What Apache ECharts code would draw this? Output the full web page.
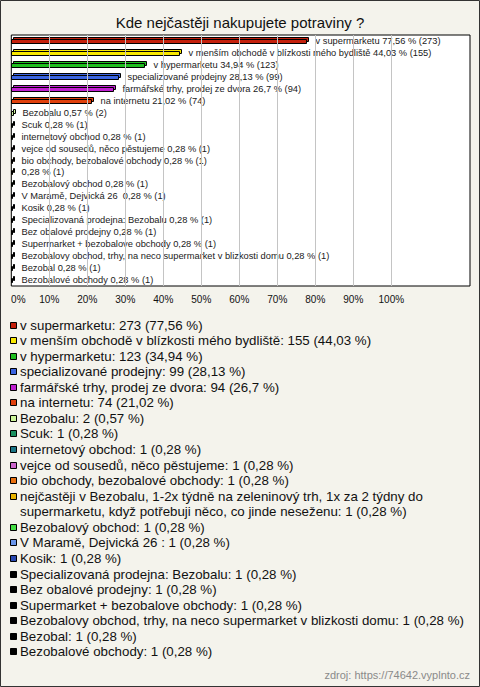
<!DOCTYPE html>
<html><head><meta charset="utf-8">
<script src="https://cdn.jsdelivr.net/npm/echarts@6/dist/echarts.min.js"></script>
<style>html,body{margin:0;padding:0;background:#f4f3ec}#c{width:480px;height:687px}</style>
</head><body><div id="c"></div>
<script>
const chartTitle = 'Kde nejčastěji nakupujete potraviny ?';
const sourceNote = 'zdroj: https://74642.vyplnto.cz';
const categories = [
  'v supermarketu',
  'v menším obchodě v blízkosti mého bydliště',
  'v hypermarketu',
  'specializované prodejny',
  'farmářské trhy, prodej ze dvora',
  'na internetu',
  'Bezobalu',
  'Scuk',
  'internetový obchod',
  'vejce od sousedů, něco pěstujeme',
  'bio obchody, bezobalové obchody',
  'nejčastěji v Bezobalu, 1-2x týdně na zeleninový trh, 1x za 2 týdny do supermarketu, když potřebuji něco, co jinde neseženu',
  'Bezobalový obchod',
  'V Maramě, Dejvická 26 ',
  'Kosik',
  'Specializovaná prodejna: Bezobalu',
  'Bez obalové prodejny',
  'Supermarket + bezobalove obchody',
  'Bezobalovy obchod, trhy, na neco supermarket v blizkosti domu',
  'Bezobal',
  'Bezobalové obchody'
];
// names as printed next to the bars (the long answer is printed without its name)
const barLabelNames = categories.map((c, i) => i === 11 ? '' : c);
const counts = [273, 155, 123, 99, 94, 74, 2, 1, 1, 1, 1, 1, 1, 1, 1, 1, 1, 1, 1, 1, 1];
const percents = [77.56, 44.03, 34.94, 28.13, 26.7, 21.02, 0.57, 0.28, 0.28, 0.28, 0.28, 0.28, 0.28, 0.28, 0.28, 0.28, 0.28, 0.28, 0.28, 0.28, 0.28];
const colors = ['#c4200c', '#f8e800', '#1fbf1f', '#3a64e0', '#c020d0', '#e0400c', '#ccf59a', '#1a9060',
  '#1a7585', '#cc66cc', '#e87010', '#e8b400', '#44dd44', '#6a96ea', '#2848b0',
  '#000000', '#000000', '#000000', '#000000', '#000000', '#000000'];
const tickStep = 10;
const tickLabelMax = 100;
const gridLineValues = [10, 20, 30, 40, 50, 60, 70, 80, 90, 100];

const FONT = '"Liberation Sans", Arial, sans-serif';
const fmt = v => String(v).replace('.', ',');

// plot frame: 0% at x=11.3, 100% at x=391.3, frame right edge at x=470
const gridLeft = 11.3, gridRight = 470, pxPer100 = 380;
const axisMax = (gridRight - gridLeft) / pxPer100 * 100;

// legend built from the arrays
const legendTop = 325, legendStep = 15.57, legendTextWidth = 448, legendFont = '13.3px ' + FONT;
const mc = document.createElement('canvas').getContext('2d');
mc.font = legendFont;
const legendElems = [];
let line = 0;
categories.forEach((c, i) => {
  const txt = c + ': ' + counts[i] + ' (' + fmt(percents[i]) + ' %)';
  const yc = legendTop + line * legendStep;
  legendElems.push({
    type: 'rect', silent: true,
    shape: { x: 10.5, y: Math.round(yc - 3.5) + 0.5, width: 6, height: 6 },
    style: { fill: colors[i], stroke: '#000', lineWidth: 1 }
  });
  legendElems.push({
    type: 'text', silent: true,
    style: { x: 20, y: yc - legendStep / 2, text: txt, width: legendTextWidth, overflow: 'break',
      font: legendFont, lineHeight: legendStep, fill: '#111', verticalAlign: 'top', align: 'left' }
  });
  const w = mc.measureText(txt).width;
  line += Math.max(1, Math.ceil(w / legendTextWidth));
});

const chart = echarts.init(document.getElementById('c'), null, { renderer: 'svg' });
chart.setOption({
  backgroundColor: '#f4f3ec',
  animation: false,
  title: {
    text: chartTitle, left: 'center', top: 10,
    textStyle: { fontFamily: FONT, fontSize: 15, fontWeight: 'normal', color: '#111' }
  },
  grid: {
    left: gridLeft, top: 35, width: gridRight - gridLeft, height: 251,
    show: true, backgroundColor: '#ffffff', borderColor: '#000', borderWidth: 1,
    containLabel: false
  },
  xAxis: {
    type: 'value', min: 0, max: axisMax, interval: tickStep,
    axisLine: { show: false }, axisTick: { show: false }, splitLine: { show: false },
    axisLabel: {
      margin: 8, fontFamily: FONT, fontSize: 10, color: '#111', showMaxLabel: false,
      formatter: v => v > tickLabelMax + 0.01 ? '' : (v === 0 ? '{z|0%}' : v + '%'),
      rich: { z: { fontFamily: FONT, fontSize: 10, color: '#111', padding: [0, 0, 0, 14] } }
    }
  },
  yAxis: {
    type: 'category', inverse: true, data: categories,
    axisLine: { show: false }, axisTick: { show: false }, axisLabel: { show: false }, splitLine: { show: false }
  },
  series: [
    {
      type: 'line', data: [], silent: true, z: 1,
      markLine: {
        silent: true, symbol: ['none', 'none'], label: { show: false },
        lineStyle: { color: '#c4c4c4', width: 1, type: 'solid' },
        emphasis: { disabled: true },
        data: gridLineValues.map(v => ({ xAxis: v }))
      }
    },
    {
      type: 'custom', z: 3, silent: true,
      data: percents.map((p, i) => [p, i]),
      renderItem(params, api) {
        const i = params.dataIndex;
        const p0 = api.coord([0, api.value(1)]);
        const p1 = api.coord([api.value(0), api.value(1)]);
        const yc = Math.round(p0[1]);
        const x0 = Math.round(p0[0]) + 0.5;
        const x1 = Math.max(Math.round(p1[0]) + 0.5, x0 + 1);
        const h = 4, d = 2;
        const col = colors[i];
        const label = (barLabelNames[i] ? barLabelNames[i] + ' ' : '') + fmt(percents[i]) + ' % (' + counts[i] + ')';
        return {
          type: 'group',
          children: [
            { type: 'rect', shape: { x: x0 + d, y: yc - 1.5 - d, width: x1 - x0, height: h },
              style: { fill: col, stroke: '#000', lineWidth: 1 } },
            { type: 'rect', shape: { x: x0, y: yc - 1.5, width: x1 - x0, height: h },
              style: { fill: col, stroke: '#000', lineWidth: 1 } },
            { type: 'text', style: { x: x1 + d + 7, y: yc, text: label, font: '9.3px ' + FONT,
              fill: '#1a1a1a', verticalAlign: 'middle', align: 'left' } }
          ]
        };
      }
    }
  ],
  graphic: [
    { type: 'rect', silent: true, z: 100,
      shape: { x: 0.5, y: 0.5, width: 479, height: 686 },
      style: { fill: 'none', stroke: '#333', lineWidth: 1 } },
    { type: 'text', silent: true, right: 10, top: 669,
      style: { text: sourceNote, font: '11px ' + FONT, fill: '#8a8a8a' } },
    { type: 'group', silent: true, children: legendElems }
  ]
});
</script></body></html>
